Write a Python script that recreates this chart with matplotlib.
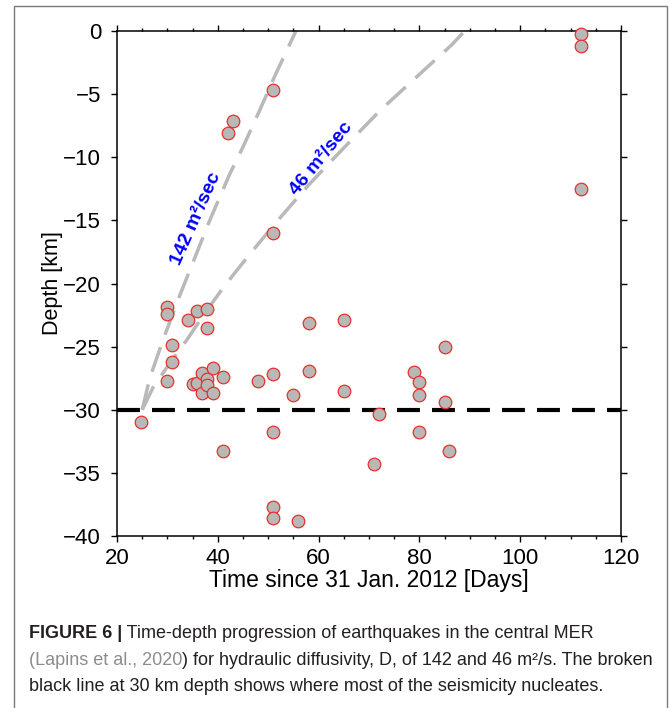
import numpy as np
import matplotlib
matplotlib.use("Agg")
import matplotlib.pyplot as plt
from matplotlib.patches import Rectangle

plt.rcParams['font.family'] = ['Liberation Sans', 'DejaVu Sans']

# earthquake hypocentres: time (days since 31 Jan 2012), depth (km)
t_eq = [24.8, 29.9, 29.9, 30.9, 30.9, 29.9, 34.0, 35.9, 37.9, 37.9,
        35.0, 35.9, 36.9, 36.9, 37.9, 37.9, 39.0, 39.0, 41.0, 41.0,
        42.0, 43.0, 48.0, 50.9, 50.9, 50.9, 50.9, 50.9, 50.9, 55.0,
        56.0, 58.0, 58.0, 65.1, 65.1, 71.0, 72.0, 79.0, 80.0, 80.0,
        80.0, 85.1, 85.1, 85.9, 112.1, 112.1, 112.1]
z_eq = [-31.0, -21.9, -22.4, -24.9, -26.2, -27.7, -22.9, -22.2, -22.0, -23.5,
        -27.95, -27.9, -27.1, -28.7, -27.6, -28.0, -26.7, -28.7, -27.4, -33.3,
        -8.1, -7.1, -27.7, -4.7, -16.0, -27.2, -31.8, -37.7, -38.6, -28.8,
        -38.85, -23.1, -26.9, -22.9, -28.5, -34.3, -30.3, -27.0, -27.8, -28.8,
        -31.8, -25.0, -29.35, -33.25, -0.24, -1.2, -12.5]

# diffusion fronts
t_142 = [25, 26.5, 29.2, 32.2, 35.1, 38.4, 42.4, 45.1, 48.4, 51.5, 55.5]
z_142 = [-30, -27.5, -24.4, -21.2, -18.3, -15.0, -11.3, -9.1, -6.2, -3.4, 0]
t_46 = [25, 27.2, 30.5, 33.8, 37.5, 41.5, 46.5, 51.7, 58.0, 64.9, 72.2, 79.0, 86.4, 89.0]
z_46 = [-30, -28.2, -26.3, -24.5, -22.3, -20.1, -17.6, -15.1, -12.2, -9.3, -6.3, -3.8, -1.1, 0]

nucleation_depth = -30

fig = plt.figure(figsize=(6.69, 7.08), dpi=100)
ax = fig.add_axes([117/669, 1-536/708, 504/669, 505/708])

ax.plot(t_142, z_142, color='#b9b9b9', lw=2.5, dashes=(7.5, 3.8), zorder=2)
ax.plot(t_46, z_46, color='#b9b9b9', lw=2.5, dashes=(7.5, 3.8), zorder=2)
ax.axhline(nucleation_depth, color='black', lw=3, dashes=(5.5, 2.9), zorder=3)
ax.scatter(t_eq, z_eq, s=82, facecolor='#b8b8b8', edgecolor='#e8302a',
           linewidth=0.9, zorder=4, clip_on=False)

ax.text(35.7, -14.9, '142 m²/sec', color='#0000ff', fontsize=14, fontweight='bold',
        rotation=66, ha='center', va='center', rotation_mode='anchor')
ax.text(60.5, -10.1, '46 m²/sec', color='#0000ff', fontsize=14, fontweight='bold',
        rotation=51, ha='center', va='center', rotation_mode='anchor')

ax.set_xlim(20, 120)
ax.set_ylim(-40, 0)
ax.set_xticks(np.arange(20, 121, 20))
ax.set_xticks(np.arange(20, 121, 5), minor=True)
ax.set_yticks(np.arange(-40, 1, 5))
ax.tick_params(which='both', top=True, right=True, direction='out', width=1, labelsize=16)
ax.tick_params(which='major', length=4.5, pad=4)
ax.tick_params(which='minor', length=2.5)
ax.tick_params(axis='y', pad=7)
for s in ax.spines.values():
    s.set_linewidth(1.1)
ax.set_xlabel('Time since 31 Jan. 2012 [Days]', fontsize=16.5, labelpad=0)
ax.set_ylabel('Depth [km]', fontsize=15.5, labelpad=0)

# outer frame
fig.patches.append(Rectangle((14/669, -0.05), 653/669, 1.05 - 6/708, transform=fig.transFigure,
                             fill=False, edgecolor='#7a7a7a', lw=1))

# caption, built from coloured pieces
cap_size = 13
cap_col = '#231f20'
lines = [
    [('FIGURE 6 |', cap_col, 'bold'), (' Time-depth progression of earthquakes in the central MER', cap_col, 'normal')],
    [('(Lapins et al., 2020', '#8c8c8c', 'normal'),
     (') for hydraulic diffusivity, D, of 142 and 46 m²/s. The broken', cap_col, 'normal')],
    [('black line at 30 km depth shows where most of the seismicity nucleates.', cap_col, 'normal')],
]
ys = [1 - 642/708, 1 - 669/708, 1 - 695/708]
for pieces, y in zip(lines, ys):
    prev = None
    for txt, col, wt in pieces:
        if prev is None:
            prev = fig.text(29/669, y, txt, color=col, fontweight=wt, fontsize=cap_size,
                            ha='left', va='bottom')
        else:
            prev = plt.annotate(txt, xy=(1, 0), xycoords=prev, ha='left', va='bottom',
                                color=col, fontweight=wt, fontsize=cap_size,
                                annotation_clip=False)

fig.savefig('out.png', dpi=100)
